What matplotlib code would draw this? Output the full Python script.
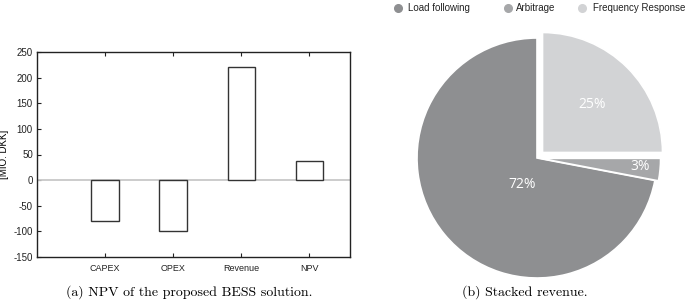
import matplotlib
matplotlib.use("Agg")
import matplotlib.pyplot as plt

# Data
categories = ["CAPEX", "OPEX", "Revenue", "NPV"]
values = [-80, -100, 220, 38]
yticks = [-150, -100, -50, 0, 50, 100, 150, 200, 250]

pie_labels = ["Load following", "Arbitrage", "Frequency Response"]
pie_values = [72, 3, 25]
pie_colors = ["#8e8f91", "#a6a7a9", "#d2d3d5"]
pie_explode = [0.0, 0.03, 0.065]

fig = plt.figure(figsize=(6.85, 3.04), dpi=100)
W, H = 685, 304

# ---- Left: bar chart ----
ax = fig.add_axes([37 / W, (H - 257) / H, (350 - 37) / W, (257 - 52) / H])
x = list(range(1, len(categories) + 1))
ax.bar(x, values, width=0.4, facecolor="white", edgecolor="#333333", linewidth=1.0, zorder=3)
ax.axhline(0, color="#c8c8c8", linewidth=1.3, zorder=2)
ax.set_xlim(0, 4.6)
ax.set_ylim(-150, 250)
ax.set_yticks(yticks)
ax.set_yticklabels([str(v) for v in yticks], fontsize=7, family="Liberation Sans")
ax.set_xticks(x)
ax.set_xticklabels(categories, fontsize=6.5, family="Liberation Sans")
ax.tick_params(axis="both", direction="in", length=3, width=0.8, colors="#222222")
ax.tick_params(axis="y", pad=3)
ax.tick_params(axis="x", top=True, bottom=True, pad=5)
for s in ax.spines.values():
    s.set_linewidth(1.0)
    s.set_color("#222222")
ax.set_ylabel("[MIO. DKK]", fontsize=7, family="Liberation Sans", labelpad=3)

# ---- Right: pie chart ----
cx, cy, half = 537, 158, 130
r = 120
lim = half / r
pax = fig.add_axes([(cx - half) / W, (H - cy - half) / H, 2 * half / W, 2 * half / H])
wedges, texts, autotexts = pax.pie(
    pie_values, colors=pie_colors, explode=pie_explode, startangle=90,
    counterclock=True, autopct="%d%%", pctdistance=0.55,
    wedgeprops=dict(edgecolor="white", linewidth=1.2),
    textprops=dict(color="white", fontsize=10, family="Open Sans"))
label_pos = [(-0.125, -0.225), (0.86, -0.07), (0.46, 0.45)]
for t, p in zip(autotexts, label_pos):
    t.set_position(p)
pax.set_xlim(-lim, lim)
pax.set_ylim(-lim, lim)
pax.set_aspect("equal")
pax.axis("off")

# ---- Legend (manual placement) ----
oax = fig.add_axes([0, 0, 1, 1])
oax.set_xlim(0, W)
oax.set_ylim(H, 0)
oax.axis("off")
marker_x = [398, 508, 582]
text_x = [408, 516, 593]
for mx, tx, c, lab in zip(marker_x, text_x, pie_colors, pie_labels):
    oax.plot([mx], [8], marker="o", markersize=5.5, color=c, linestyle="")
    oax.text(tx, 8, lab, ha="left", va="center", fontsize=7, family="Liberation Sans",
             color="#222222")

# ---- Captions ----
fig.text(189 / W, 1 - 292 / H, "(a) NPV of the proposed BESS solution.",
         ha="center", va="center", fontsize=10, family="cmr10")
fig.text(525 / W, 1 - 292 / H, "(b) Stacked revenue.",
         ha="center", va="center", fontsize=10, family="cmr10")

fig.savefig("out.png", dpi=100)
